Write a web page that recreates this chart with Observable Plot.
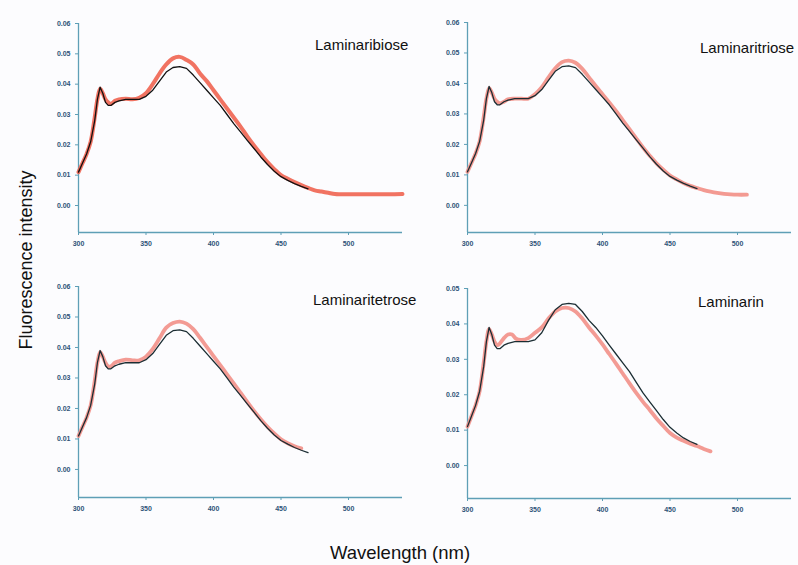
<!DOCTYPE html>
<html><head><meta charset="utf-8">
<script src="https://cdn.jsdelivr.net/npm/d3@7"></script>
<script src="https://cdn.jsdelivr.net/npm/@observablehq/plot@0.6"></script>
<style>
html,body{margin:0;padding:0;background:#fcfcfe;}
#wrap{position:relative;width:798px;height:565px;overflow:hidden;font-family:"Liberation Sans",Arial,sans-serif;background:#fcfcfe;}
.panel{position:absolute;}
#overlay{position:absolute;left:0;top:0;pointer-events:none;}
</style></head><body><div id="wrap"></div>
<script>
// ---- data ----
const panelTitles = ["Laminaribiose", "Laminaritriose", "Laminaritetrose", "Laminarin"];
const xTicks = [300, 350, 400, 450, 500];
const yTicks6 = [0, 0.01, 0.02, 0.03, 0.04, 0.05, 0.06];
const yTicks5 = [0, 0.01, 0.02, 0.03, 0.04, 0.05];

const wlBase = [300,303,306,309,312,314,316,318,320,322,324,327,330,335,340,345,350,355,360,365,370,375,380,385,390,395,400,405,410,415,420,425,430,435,440,445,450,455,460,465,470];

// black (reference) spectra
const blackA = [0.011,0.014,0.017,0.021,0.028,0.035,0.039,0.037,0.034,0.033,0.033,0.034,0.0345,0.035,0.035,0.035,0.036,0.038,0.041,0.044,0.0455,0.0458,0.0452,0.043,0.0405,0.038,0.0355,0.033,0.030,0.027,0.0243,0.0215,0.0188,0.016,0.0135,0.0113,0.0095,0.0083,0.0072,0.0063,0.0055];
const blackD = [0.011,0.014,0.017,0.021,0.028,0.035,0.039,0.037,0.034,0.033,0.033,0.034,0.0345,0.035,0.035,0.035,0.0355,0.0375,0.041,0.044,0.0455,0.0458,0.0455,0.0435,0.041,0.039,0.0366,0.034,0.0315,0.029,0.0265,0.0235,0.0205,0.018,0.0155,0.013,0.0108,0.0092,0.0078,0.0068,0.006];

// red spectra
const wlRed1 = [300,303,306,309,312,314,316,318,320,322,324,327,330,335,340,345,350,355,360,365,370,375,380,385,390,395,400,405,410,415,420,425,430,435,440,445,450,455,460,465,470,475,480,485,490,500,510,520,530,540];
const red1 = [0.011,0.014,0.017,0.021,0.029,0.035,0.0385,0.037,0.035,0.034,0.0335,0.0345,0.035,0.0352,0.035,0.0355,0.037,0.040,0.0435,0.0465,0.0485,0.049,0.048,0.0465,0.0435,0.041,0.038,0.035,0.032,0.029,0.026,0.0228,0.0198,0.017,0.0143,0.012,0.010,0.0088,0.0077,0.0067,0.0058,0.005,0.0046,0.0042,0.0038,0.0037,0.0037,0.0037,0.0037,0.0038];
const wlRed2 = [300,303,306,309,312,314,316,318,320,322,324,327,330,335,340,345,350,355,360,365,370,375,380,385,390,395,400,405,410,415,420,425,430,435,440,445,450,455,460,465,470,475,480,485,490,495,500,507];
const red2 = [0.011,0.014,0.017,0.021,0.029,0.035,0.0385,0.037,0.035,0.034,0.0335,0.034,0.0348,0.035,0.035,0.035,0.0365,0.0388,0.042,0.045,0.047,0.0475,0.0468,0.0448,0.042,0.0392,0.0365,0.0338,0.031,0.028,0.025,0.022,0.019,0.0163,0.0138,0.0117,0.0098,0.0085,0.0073,0.0064,0.0057,0.005,0.0045,0.0041,0.0038,0.0036,0.0035,0.0035];
const wlRed3 = [300,303,306,309,312,314,316,318,320,322,324,327,330,335,340,345,350,355,360,365,370,375,380,385,390,395,400,405,410,415,420,425,430,435,440,445,450,455,460,465];
const red3 = [0.011,0.014,0.017,0.021,0.029,0.035,0.0385,0.037,0.035,0.0338,0.0338,0.035,0.0355,0.036,0.0358,0.0358,0.037,0.0395,0.043,0.0465,0.048,0.0485,0.0478,0.046,0.0432,0.0402,0.0372,0.0342,0.0312,0.0282,0.0252,0.0222,0.0192,0.0165,0.014,0.0118,0.0099,0.0086,0.0076,0.0069];
const wlRed4 = [300,303,306,309,312,314,316,318,320,322,324,327,330,333,336,340,345,350,355,360,365,370,375,380,385,390,395,400,405,410,415,420,425,430,435,440,445,450,455,460,465,470,475,480];
const red4 = [0.011,0.014,0.017,0.021,0.029,0.035,0.0385,0.037,0.035,0.034,0.0345,0.036,0.037,0.037,0.0358,0.0355,0.036,0.0375,0.039,0.0415,0.0435,0.0445,0.0445,0.0435,0.0415,0.039,0.0367,0.0342,0.0315,0.0288,0.026,0.0232,0.0205,0.018,0.0157,0.0133,0.0112,0.0092,0.0079,0.007,0.0062,0.0055,0.0047,0.004];

// ---- layout ----
const axisColor = "#5e9fb6";
const tickText = "#2e5378";
const toRows = (xs, ys) => xs.map((x, i) => ({x, y: ys[i]}));

const panels = [
  {title: panelTitles[0], bw: wlBase, bv: blackA, rw: wlRed1, rv: red1, yMin: -0.0089, yMax: 0.06, yT: yTicks6, left: 0, top: 0, mt: 23, mb: 23, red: "#ee5a47", redW: 4, redO: 0.85, black: "#111111", tx: 315, ty: 50},
  {title: panelTitles[1], bw: wlBase, bv: blackA, rw: wlRed2, rv: red2, yMin: -0.0089, yMax: 0.06, yT: yTicks6, left: 389, top: 0, mt: 22, mb: 23, red: "#f28f86", redW: 3.8, redO: 0.9, black: "#1b2d33", tx: 700, ty: 53},
  {title: panelTitles[2], bw: wlBase, bv: blackA, rw: wlRed3, rv: red3, yMin: -0.0092, yMax: 0.06, yT: yTicks6, left: 0, top: 263, mt: 23, mb: 21, red: "#f29088", redW: 3.8, redO: 0.9, black: "#1b2d33", tx: 313, ty: 305},
  {title: panelTitles[3], bw: wlBase, bv: blackD, rw: wlRed4, rv: red4, yMin: -0.0093, yMax: 0.05, yT: yTicks5, left: 389, top: 265, mt: 23, mb: 22, red: "#f29088", redW: 3.8, redO: 0.9, black: "#1b2d33", tx: 698, ty: 307}
];

const wrap = document.getElementById("wrap");
for (const p of panels) {
  const chart = Plot.plot({
    width: 405, height: 255,
    marginLeft: 78, marginRight: 3, marginTop: p.mt, marginBottom: p.mb,
    x: {domain: [300, 540], label: null},
    y: {domain: [p.yMin, p.yMax], label: null},
    style: {background: "transparent", fontFamily: "'Liberation Sans', Arial, sans-serif", overflow: "visible"},
    marks: [
      Plot.ruleX([300], {stroke: axisColor, strokeWidth: 1.3}),
      Plot.ruleY([p.yMin], {stroke: axisColor, strokeWidth: 1.3}),
      Plot.axisX({ticks: xTicks, tickSize: 3, tickPadding: 6, stroke: axisColor, fill: tickText, fontSize: 7, fontWeight: "bold", label: null}),
      Plot.axisY({ticks: p.yT, tickSize: 3, tickPadding: 5, tickFormat: d3.format(".2f"), stroke: axisColor, fill: tickText, fontSize: 7, fontWeight: "bold", label: null}),
      Plot.line(toRows(p.rw, p.rv), {x: "x", y: "y", stroke: p.red, strokeWidth: p.redW, strokeOpacity: p.redO, curve: "catmull-rom"}),
      Plot.line(toRows(p.bw, p.bv), {x: "x", y: "y", stroke: p.black, strokeWidth: 1.3, curve: "linear"})
    ]
  });
  const div = document.createElement("div");
  div.className = "panel";
  div.style.left = p.left + "px";
  div.style.top = p.top + "px";
  div.appendChild(chart);
  wrap.appendChild(div);
}

// overlay text: panel titles and axis titles
const ns = "http://www.w3.org/2000/svg";
const ov = document.createElementNS(ns, "svg");
ov.setAttribute("id", "overlay");
ov.setAttribute("width", 798);
ov.setAttribute("height", 565);
function addText(str, x, y, size, anchor, rotate) {
  const t = document.createElementNS(ns, "text");
  t.textContent = str;
  t.setAttribute("x", x);
  t.setAttribute("y", y);
  t.setAttribute("font-size", size);
  t.setAttribute("font-family", "'Liberation Sans', Arial, sans-serif");
  t.setAttribute("fill", "#111");
  t.setAttribute("text-anchor", anchor);
  if (rotate) t.setAttribute("transform", `rotate(-90 ${x} ${y})`);
  ov.appendChild(t);
}
for (const p of panels) addText(p.title, p.tx, p.ty, 15, "start", false);
addText("Fluorescence intensity", 32, 260, 18, "middle", true);
addText("Wavelength (nm)", 400, 559, 18.5, "middle", false);
wrap.appendChild(ov);
</script>
</body></html>
